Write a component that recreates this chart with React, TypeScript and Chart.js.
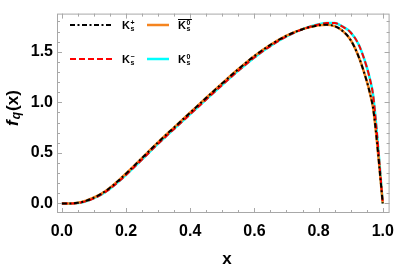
import React, { useEffect, useRef } from "react";
import { Chart, registerables } from "chart.js";

Chart.register(...registerables);

const xVals = [0, 0.025, 0.05, 0.075, 0.1, 0.125, 0.15, 0.175, 0.2, 0.25, 0.3, 0.35, 0.4, 0.45, 0.5, 0.55, 0.6, 0.65, 0.7, 0.75, 0.8, 0.825, 0.85, 0.875, 0.9, 0.925, 0.95, 0.96, 0.97, 0.98, 0.99, 1.0];
const kPlus = [0, 0, 0.006, 0.026, 0.058, 0.1, 0.155, 0.222, 0.295, 0.45, 0.605, 0.752, 0.898, 1.044, 1.188, 1.328, 1.458, 1.568, 1.658, 1.723, 1.76, 1.767, 1.752, 1.705, 1.615, 1.45, 1.21, 1.09, 0.94, 0.67, 0.34, 0];
const kBar0 = [0, 0, 0.006, 0.027, 0.059, 0.101, 0.156, 0.223, 0.296, 0.451, 0.606, 0.753, 0.899, 1.045, 1.189, 1.329, 1.459, 1.569, 1.659, 1.724, 1.761, 1.768, 1.753, 1.706, 1.616, 1.451, 1.211, 1.091, 0.941, 0.671, 0.341, 0];
const kMinus = [0, 0, 0.004, 0.021, 0.051, 0.092, 0.145, 0.21, 0.282, 0.435, 0.59, 0.737, 0.882, 1.028, 1.172, 1.312, 1.443, 1.556, 1.65, 1.722, 1.77, 1.783, 1.783, 1.748, 1.69, 1.57, 1.35, 1.23, 1.07, 0.76, 0.39, 0];
const kZero = [0, 0, 0.004, 0.022, 0.052, 0.093, 0.146, 0.211, 0.283, 0.436, 0.591, 0.738, 0.883, 1.029, 1.173, 1.313, 1.444, 1.557, 1.651, 1.723, 1.771, 1.784, 1.784, 1.749, 1.691, 1.571, 1.351, 1.231, 1.071, 0.761, 0.391, 0];

const xTicks = [0, 0.2, 0.4, 0.6, 0.8, 1.0];
const yTicks = [0, 0.5, 1.0, 1.5];

const X_MIN = -0.0152, X_MAX = 1.0213;
const Y_MIN = -0.0943, Y_MAX = 1.877;

const FONT = '"Liberation Sans", Arial, sans-serif';

const toPts = (ys: number[]) => xVals.map((x, i) => ({ x, y: ys[i] }));

const framePlugin = {
  id: "framePlugin",
  afterDraw(chart: any) {
    const ctx = chart.ctx;
    const { left, right, top, bottom } = chart.chartArea;
    const xs = chart.scales.x;
    const ys = chart.scales.y;
    ctx.save();
    ctx.strokeStyle = "#a8a8a8";
    ctx.lineWidth = 1;
    ctx.strokeRect(left + 0.5, top + 0.5, right - left - 1, bottom - top - 1);
    ctx.beginPath();
    for (let i = 0; i <= 20; i++) {
      const v = i * 0.05;
      const px = Math.round(xs.getPixelForValue(v)) + 0.5;
      const len = i % 4 === 0 ? 5 : 3;
      ctx.moveTo(px, bottom);
      ctx.lineTo(px, bottom - len);
      ctx.moveTo(px, top);
      ctx.lineTo(px, top + len);
    }
    for (let i = 0; i <= 18; i++) {
      const v = i * 0.1;
      const py = Math.round(ys.getPixelForValue(v)) + 0.5;
      const len = i % 5 === 0 ? 5 : 3;
      ctx.moveTo(left, py);
      ctx.lineTo(left + len, py);
      ctx.moveTo(right, py);
      ctx.lineTo(right - len, py);
    }
    ctx.stroke();

    // axis titles
    ctx.fillStyle = "#000";
    ctx.textBaseline = "middle";
    ctx.textAlign = "center";
    ctx.font = `bold 17px ${FONT}`;
    ctx.fillText("x", 227, 259);

    ctx.save();
    ctx.translate(13, 108);
    ctx.rotate(-Math.PI / 2);
    ctx.textAlign = "left";
    const fF = `italic bold 17px ${FONT}`;
    const fQ = `italic bold 12px ${FONT}`;
    const fX = `bold 17px ${FONT}`;
    ctx.font = fF; const wf = ctx.measureText("f").width + 1;
    ctx.font = fQ; const wq = ctx.measureText("q").width + 1;
    ctx.font = fX; const wx = ctx.measureText("(x)").width;
    let sx = -(wf + wq + wx) / 2;
    ctx.font = fF; ctx.fillText("f", sx, 0); sx += wf;
    ctx.font = fQ; ctx.fillText("q", sx, 4); sx += wq;
    ctx.font = fX; ctx.fillText("(x)", sx, 0);
    ctx.restore();

    // legend
    const drawLine = (x1: number, x2: number, y: number, color: string, dash: number[], w: number) => {
      ctx.save();
      ctx.strokeStyle = color;
      ctx.lineWidth = w;
      ctx.setLineDash(dash);
      ctx.beginPath();
      ctx.moveTo(x1, y);
      ctx.lineTo(x2, y);
      ctx.stroke();
      ctx.restore();
    };
    const drawK = (x: number, y: number, sup: string, overline: boolean) => {
      ctx.save();
      ctx.fillStyle = "#000";
      ctx.textAlign = "left";
      ctx.textBaseline = "alphabetic";
      ctx.font = `bold 11px ${FONT}`;
      ctx.fillText("K", x, y + 4);
      const wk = ctx.measureText("K").width;
      ctx.font = `bold 7px ${FONT}`;
      ctx.fillText(sup, x + wk + 0.5, y - 0.5);
      ctx.fillText("s", x + wk + 0.5, y + 5.5);
      if (overline) {
        ctx.strokeStyle = "#000";
        ctx.lineWidth = 1;
        ctx.beginPath();
        ctx.moveTo(x, y - 5.5);
        ctx.lineTo(x + wk + 6, y - 5.5);
        ctx.stroke();
      }
      ctx.restore();
    };
    drawLine(70, 112, 25, "#000000", [5, 2.5, 2, 2.5], 2);
    drawK(122, 25, "+", false);
    drawLine(147, 169, 25, "#f5841f", [], 2.5);
    drawK(178, 25, "0", true);
    drawLine(70, 112, 59, "#ff0000", [6, 3], 2);
    drawK(122, 59, "−", false);
    drawLine(147, 169, 59, "#00ffff", [], 2.5);
    drawK(178, 59, "0", false);
    ctx.restore();
  },
};

export default function App() {
  const ref = useRef<HTMLCanvasElement | null>(null);
  useEffect(() => {
    if (!ref.current) return;
    const chart = new Chart(ref.current, {
      type: "line",
      data: {
        datasets: [
          { label: "K+", data: toPts(kPlus), borderColor: "#000000", borderWidth: 2, borderDash: [5, 2.5, 2, 2.5], pointRadius: 0, cubicInterpolationMode: "monotone", fill: false },
          { label: "K-", data: toPts(kMinus), borderColor: "#ff0000", borderWidth: 2, borderDash: [6, 3], pointRadius: 0, cubicInterpolationMode: "monotone", fill: false },
          { label: "K0bar", data: toPts(kBar0), borderColor: "#f5841f", borderWidth: 2.5, pointRadius: 0, cubicInterpolationMode: "monotone", fill: false },
          { label: "K0", data: toPts(kZero), borderColor: "#00ffff", borderWidth: 2.5, pointRadius: 0, cubicInterpolationMode: "monotone", fill: false },
        ],
      },
      options: {
        animation: false,
        responsive: false,
        events: [],
        layout: { padding: { left: 0, right: 6, top: 4, bottom: 0 } },
        plugins: { legend: { display: false }, tooltip: { enabled: false } },
        scales: {
          x: {
            type: "linear",
            min: X_MIN,
            max: X_MAX,
            grid: { display: false, drawTicks: false },
            border: { display: false },
            ticks: {
              padding: 9,
              color: "#000",
              font: { family: FONT, size: 16, weight: "bold" },
              callback: (v: any) => Number(v).toFixed(1),
            },
            afterBuildTicks: (s: any) => { s.ticks = xTicks.map((v) => ({ value: v })); },
            afterFit: (s: any) => { s.height = 57; },
          },
          y: {
            type: "linear",
            min: Y_MIN,
            max: Y_MAX,
            grid: { display: false, drawTicks: false },
            border: { display: false },
            ticks: {
              padding: 4,
              color: "#000",
              font: { family: FONT, size: 16, weight: "bold" },
              callback: (v: any) => Number(v).toFixed(1),
            },
            afterBuildTicks: (s: any) => { s.ticks = yTicks.map((v) => ({ value: v })); },
            afterFit: (s: any) => { s.width = 57; },
          },
        },
      },
      plugins: [framePlugin],
    } as any);
    return () => chart.destroy();
  }, []);
  return (
    <div style={{ position: "fixed", left: 0, top: 0, width: 403, height: 270, background: "#fff" }}>
      <canvas ref={ref} width={403} height={270} />
    </div>
  );
}
